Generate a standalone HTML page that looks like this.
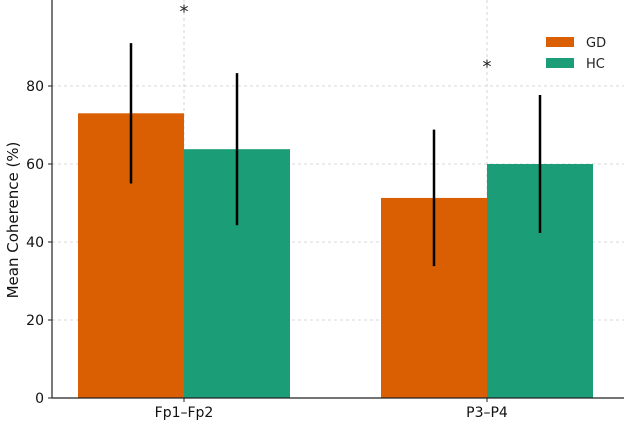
<!DOCTYPE html>
<html><head><meta charset="utf-8"><style>
body{margin:0;background:#fff}
svg{display:block;font-family:"DejaVu Sans","Liberation Sans",sans-serif}
</style></head><body>
<svg id="chart" width="624" height="423" viewBox="0 0 624 423" xmlns="http://www.w3.org/2000/svg">
<g id="grid"></g>
<g id="bars"></g>
<g id="axes"></g>
<g id="legend">
<rect x="546" y="37" width="28" height="10" fill="#d95f02"/>
<text x="586" y="47" font-size="13" fill="#222">GD</text>
<rect x="546" y="58" width="28" height="10" fill="#1b9e77"/>
<text x="586" y="68" font-size="13" fill="#222">HC</text>
</g>
<text transform="translate(18,220) rotate(-90)" text-anchor="middle" font-size="15" fill="#111">Mean Coherence (%)</text>
</svg>
<script>
const categories=["Fp1–Fp2","P3–P4"];
const gdValues=[73,51.3];
const hcValues=[63.8,60];
const gdErr=[18,17.5];
const hcErr=[19.5,17.7];
const yTicks=[0,20,40,60,80];
const sigMarks=[97,83];

const NS="http://www.w3.org/2000/svg";
const x0=52,y0=398,pxPerUnit=3.9;
const y=v=>y0-v*pxPerUnit;
const catX=i=>184+i*303;
const barW=106;
function mk(tag,attrs,parent,text){const e=document.createElementNS(NS,tag);for(const k in attrs)e.setAttribute(k,attrs[k]);if(text!==undefined)e.textContent=text;parent.appendChild(e);return e;}
const grid=document.getElementById('grid'),bars=document.getElementById('bars'),axes=document.getElementById('axes');
yTicks.forEach(t=>{
 if(t>0){const g=mk('line',{x1:x0,x2:624,y1:y(t),y2:y(t),stroke:'#ccc','stroke-dasharray':'3,3','stroke-width':0.8},grid);
 
 }
 const tk=mk('line',{x1:x0-4,x2:x0,y1:y(t),y2:y(t),stroke:'#222'},axes);
 
 
 const lb=mk('text',{x:x0-8,y:y(t)+5,'text-anchor':'end','font-size':14,fill:'#111'},axes,String(t));
 
 
});
categories.forEach((c,i)=>{
 const cx=catX(i);
 const g=mk('line',{x1:cx,x2:cx,y1:0,y2:y0,stroke:'#ccc','stroke-dasharray':'3,3','stroke-width':0.8},grid);
 
 
 [[gdValues,gdErr,'#d95f02',cx-barW,'gd'],[hcValues,hcErr,'#1b9e77',cx,'hc']].forEach(([vals,errs,col,bx,nm])=>{
  const r=mk('rect',{x:bx,y:y(vals[i]),width:barW,height:y0-y(vals[i]),fill:col},bars);
  
  
  const e=mk('line',{x1:bx+barW/2,x2:bx+barW/2,y1:y(vals[i]-errs[i]),y2:y(vals[i]+errs[i]),stroke:'#000','stroke-width':2.5},bars);
  
  
 });
 const s=mk('text',{x:cx,y:y(sigMarks[i])-2,'text-anchor':'middle','font-size':18,fill:'#222'},bars,'*');
 
 
 const tk=mk('line',{x1:cx,x2:cx,y1:y0,y2:y0+4,stroke:'#222'},axes);
 
 
 const lb=mk('text',{x:cx,y:y0+19,'text-anchor':'middle','font-size':14,fill:'#111'},axes,c);
 
 
});
const ya=mk('line',{x1:x0,x2:x0,y1:0,y2:y0,stroke:'#222','stroke-width':1.2},axes);


const xa=mk('line',{x1:x0,x2:624,y1:y0,y2:y0,stroke:'#222','stroke-width':1.2},axes);


</script>
</body></html>
